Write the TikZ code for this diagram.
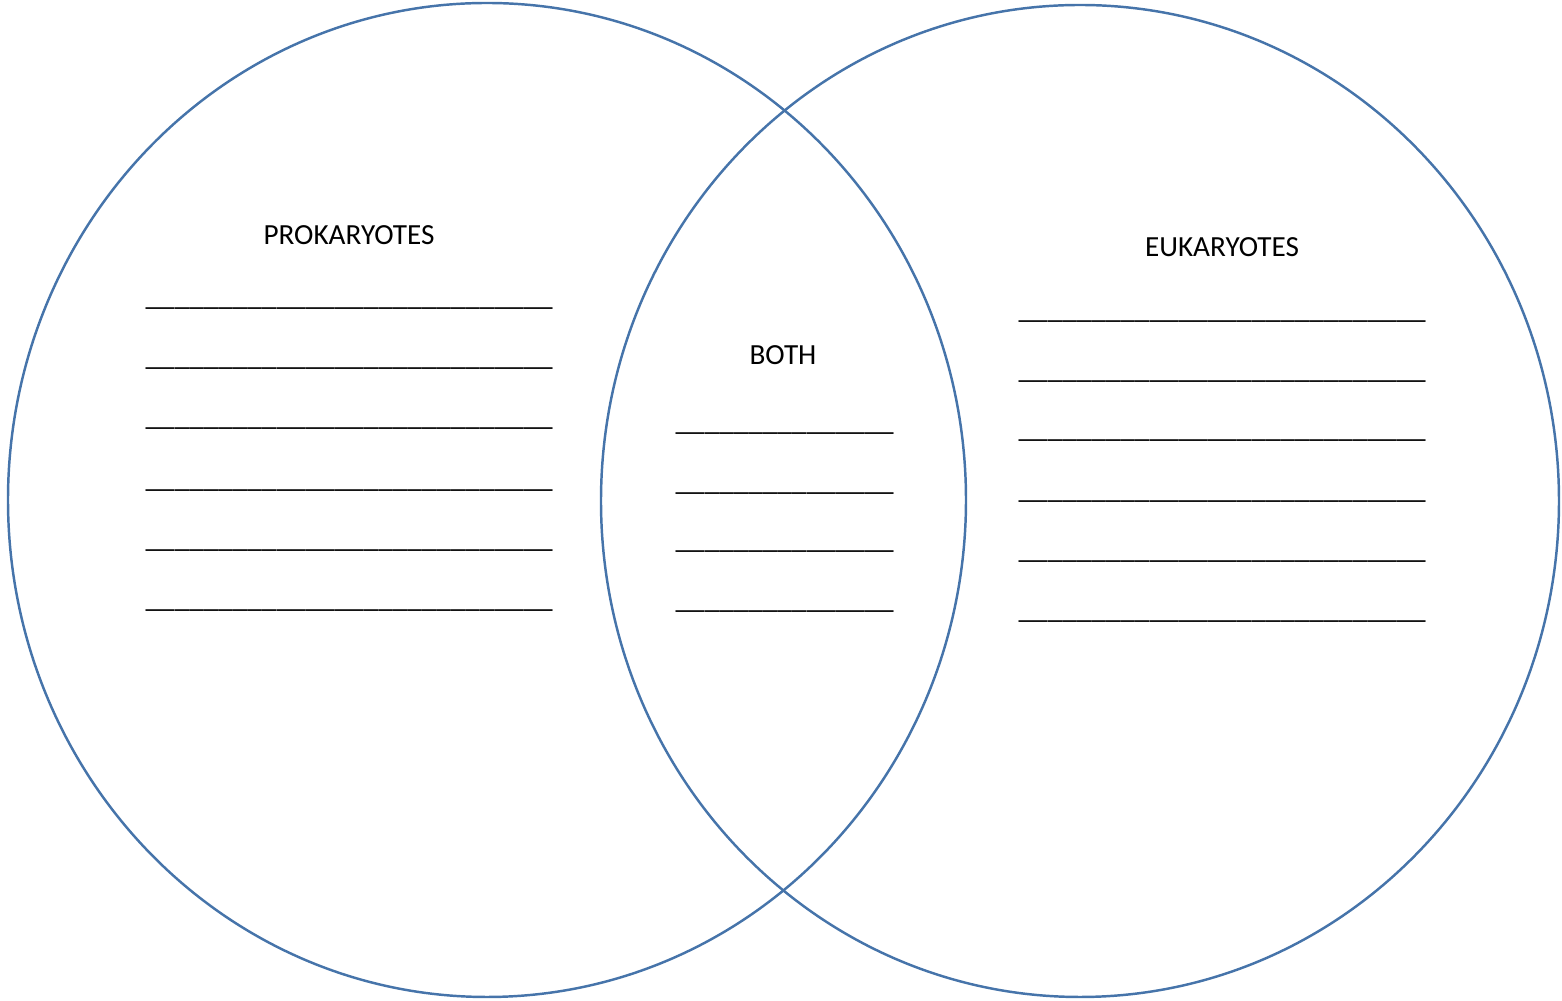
\documentclass[tikz,border=0pt]{standalone}
\usepackage{fontspec}
\setmainfont{Carlito}
\definecolor{vennblue}{HTML}{4674AA}
\newcommand{\blankline}[1]{\foreach \k in {1,...,#1}{\_}}

\begin{document}
\begin{tikzpicture}[x=0.01cm,y=-0.01cm,
        every node/.style={font=\fontsize{8.3}{10}\selectfont},
        blank/.style={anchor=base west,inner sep=0pt}]
        \useasboundingbox (0,0) rectangle (1562,1001);

        % the two sets
        \draw[vennblue,line width=0.7pt] (487,500) ellipse [x radius=479,y radius=497];
        \draw[vennblue,line width=0.7pt] (1080,501) ellipse [x radius=479,y radius=496];

        \node at (349,235) (pro) {PROKARYOTES};
        \node at (1222,247) (eu) {EUKARYOTES};
        \node at (783,355) (both) {BOTH};

        % lines to fill in
        \foreach \y [count=\i] in {305,365,425,487,547,607}
            \node[blank] at (145,\y+1) (pro\i) {\blankline{28}};
        \foreach \y [count=\i] in {430,490,548,608}
            \node[blank] at (675,\y+1) (both\i) {\blankline{15}};
        \foreach \y [count=\i] in {318,378,437,498,558,618}
            \node[blank] at (1018,\y+1) (eu\i) {\blankline{28}};

    \end{tikzpicture}
\end{document}
